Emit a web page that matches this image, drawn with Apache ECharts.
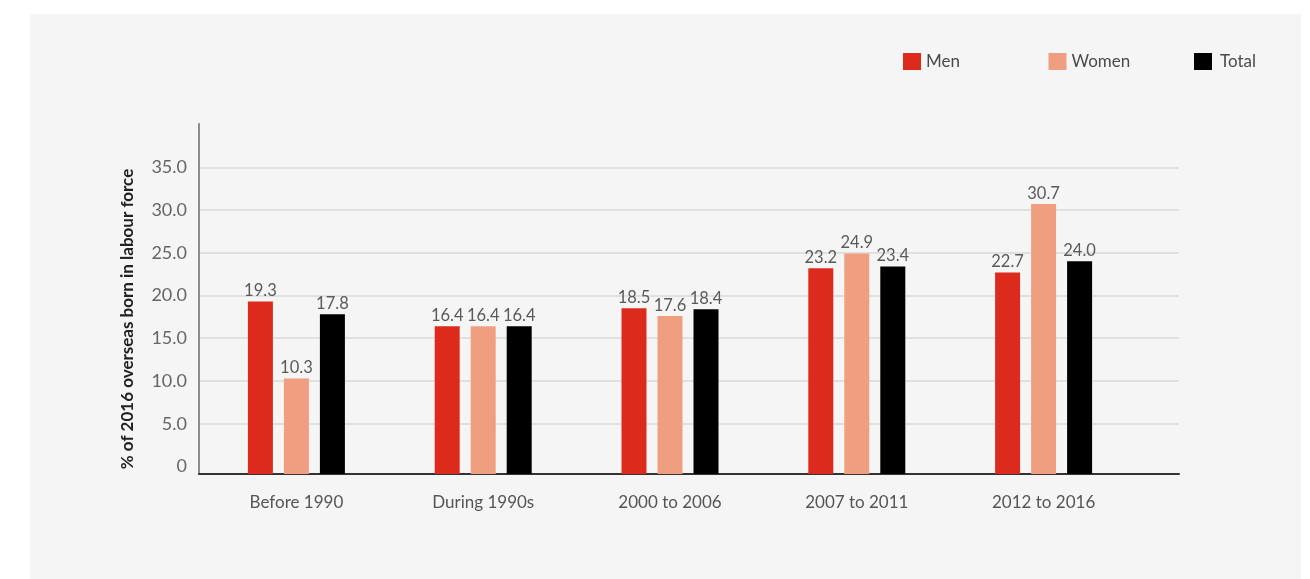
<!DOCTYPE html>
<html>
<head>
<meta charset="utf-8">
<script src="https://cdn.jsdelivr.net/npm/echarts@6/dist/echarts.min.js"></script>
<style>
  html, body { margin: 0; padding: 0; background: #fff; }
  #panel { position: absolute; left: 30px; top: 14px; width: 1271px; height: 565px; background: #f5f5f5; }
  #chart { position: absolute; left: 0; top: 0; width: 1310px; height: 579px; }
</style>
</head>
<body>
<div id="panel"></div>
<div id="chart"></div>
<script>
// Share of 2016 overseas-born in the labour force, by period of arrival
const categories = ['Before 1990', 'During 1990s', '2000 to 2006', '2007 to 2011', '2012 to 2016'];
const seriesNames = ['Men', 'Women', 'Total'];
const men   = [19.3, 16.4, 18.5, 23.2, 22.7];
const women = [10.3, 16.4, 17.6, 24.9, 30.7];
const total = [17.8, 16.4, 18.4, 23.4, 24.0];
const yTicks = [0, 5, 10, 15, 20, 25, 30, 35];
const yGridLines = [5, 10, 15, 20, 25, 30, 35];
const yTitle = '% of 2016 overseas born in labour force';

const Y_MIN = -0.88, Y_MAX = 40.06;
const BAR_W = 25, BAR_STEP = 36;
const LEGEND_LEFT = 903, LEGEND_PITCH = 145.5;

// Bars are drawn from the baseline (x-axis line) up to the value on the shared scale
function barRenderer(offset, color) {
  return function (params, api) {
    const v = api.value(1);
    const top = api.coord([api.value(0), v]);
    const cs = params.coordSys;
    const base = cs.y + cs.height;
    return {
      type: 'rect',
      shape: { x: top[0] + offset - BAR_W / 2, y: top[1], width: BAR_W, height: base - top[1] },
      style: { fill: color },
      textContent: {
        style: { text: v.toFixed(1), fill: '#5a5a5a', fontSize: 16.5, fontFamily: 'Lato' }
      },
      textConfig: { position: 'top', distance: 2 }
    };
  };
}

function barSeries(name, values, color, offset) {
  return {
    type: 'custom',
    name: name,
    xAxisIndex: 1,
    yAxisIndex: 1,
    itemStyle: { color: color },
    encode: { x: 0, y: 1 },
    data: values.map((v, i) => [i, v]),
    renderItem: barRenderer(offset, color)
  };
}

// One legend block per series, laid out on a fixed pitch
const legends = seriesNames.map((name, i) => ({
  data: [name],
  left: LEGEND_LEFT + i * LEGEND_PITCH,
  top: 53,
  padding: 0,
  icon: 'rect',
  itemWidth: 18,
  itemHeight: 17,
  itemGap: 6,
  textStyle: { fontSize: 17, color: '#4a4a4a', fontFamily: 'Lato', padding: [0, 0, 0, i === 2 ? 3 : 0] }
}));

const chart = echarts.init(document.getElementById('chart'), null, { renderer: 'canvas' });
chart.setOption({
  backgroundColor: 'transparent',
  animation: false,
  textStyle: { fontFamily: 'Lato' },
  legend: legends,
  grid: [
    { left: 199, right: 131, top: 124, bottom: 105 },
    { left: 203, right: 173, top: 124, bottom: 105 }
  ],
  xAxis: [
    {
      type: 'value', gridIndex: 0, min: 0, max: 1,
      axisLine: { show: true, onZero: false, lineStyle: { color: '#333', width: 2 } },
      axisTick: { show: false }, axisLabel: { show: false }, splitLine: { show: false }
    },
    {
      type: 'category', gridIndex: 1, data: categories,
      axisLine: { show: false }, axisTick: { show: false }, splitLine: { show: false },
      axisLabel: { color: '#555', fontSize: 17, margin: 20, fontFamily: 'Lato' }
    }
  ],
  yAxis: [
    {
      type: 'value', gridIndex: 0, min: Y_MIN, max: Y_MAX,
      axisLine: { show: true, lineStyle: { color: '#8c8c8c', width: 2 } },
      axisTick: { show: false, customValues: yGridLines },
      axisLabel: {
        customValues: yTicks, color: '#666', fontSize: 18, margin: 12, fontFamily: 'Lato',
        formatter: v => (v === 0 ? '0' : v.toFixed(1))
      },
      splitLine: { show: true, lineStyle: { color: '#d9d9d9', width: 1.5 } }
    },
    { type: 'value', gridIndex: 1, min: Y_MIN, max: Y_MAX, show: false }
  ],
  graphic: [
    {
      type: 'text', x: 128, y: 319, rotation: Math.PI / 2,
      style: {
        text: yTitle, fill: '#222', fontSize: 17, fontWeight: 'bold', fontFamily: 'Lato',
        align: 'center', verticalAlign: 'middle'
      }
    }
  ],
  series: [
    barSeries('Men', men, '#dc2b1d', -BAR_STEP),
    barSeries('Women', women, '#f09e80', 0),
    barSeries('Total', total, '#000000', BAR_STEP)
  ]
});
</script>
</body>
</html>
